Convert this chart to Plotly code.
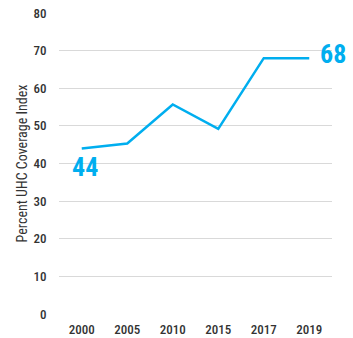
import plotly.graph_objects as go

years = ["2000", "2005", "2010", "2015", "2017", "2019"]
uhc_index = [44, 45.3, 55.7, 49.2, 68, 68]
y_ticks = [0, 10, 20, 30, 40, 50, 60, 70, 80]

LINE_COLOR = "#00AEEF"
TEXT_COLOR = "#333333"
FONT = "Roboto Condensed, Roboto, sans-serif"

x_pos = list(range(len(years)))

fig = go.Figure()
fig.add_trace(go.Scatter(
    x=x_pos, y=uhc_index, mode="lines",
    line=dict(color=LINE_COLOR, width=2.5),
    cliponaxis=False, hoverinfo="skip",
))

# Value callouts at the first and last points
fig.add_annotation(x=x_pos[0], y=uhc_index[0], text=f"<b>{uhc_index[0]:.0f}</b>",
                   showarrow=False, xanchor="center", yanchor="top", yshift=-2, xshift=3,
                   font=dict(family=FONT, size=26, color=LINE_COLOR))
fig.add_annotation(x=x_pos[-1], y=uhc_index[-1], text=f"<b>{uhc_index[-1]:.0f}</b>",
                   showarrow=False, xanchor="left", yanchor="middle", xshift=9, yshift=4,
                   font=dict(family=FONT, size=26, color=LINE_COLOR))

fig.update_layout(
    width=353, height=338,
    margin=dict(l=59, r=21, t=13, b=24),
    paper_bgcolor="white", plot_bgcolor="white",
    showlegend=False,
    font=dict(family=FONT, size=12, color=TEXT_COLOR),
)
fig.update_xaxes(
    range=[-0.5, 5.5], tickvals=x_pos, ticktext=years, automargin=False,
    showgrid=False, zeroline=False, showline=False,
    ticks="outside", ticklen=3, tickcolor="rgba(0,0,0,0)",
    tickfont=dict(family=FONT, size=13, color=TEXT_COLOR, weight=500),
)
fig.update_yaxes(
    range=[0, 80], tickvals=y_ticks, automargin=False,
    showgrid=True, gridcolor="#d9d9d9", gridwidth=1.2,
    zeroline=False, showline=False,
    ticks="outside", ticklen=9, tickcolor="rgba(0,0,0,0)",
    tickfont=dict(family=FONT, size=13, color=TEXT_COLOR, weight=500),
    title=dict(text="Percent UHC Coverage Index", standoff=2,
               font=dict(family=FONT, size=14, color=TEXT_COLOR)),
)

fig.write_html("out.html")
